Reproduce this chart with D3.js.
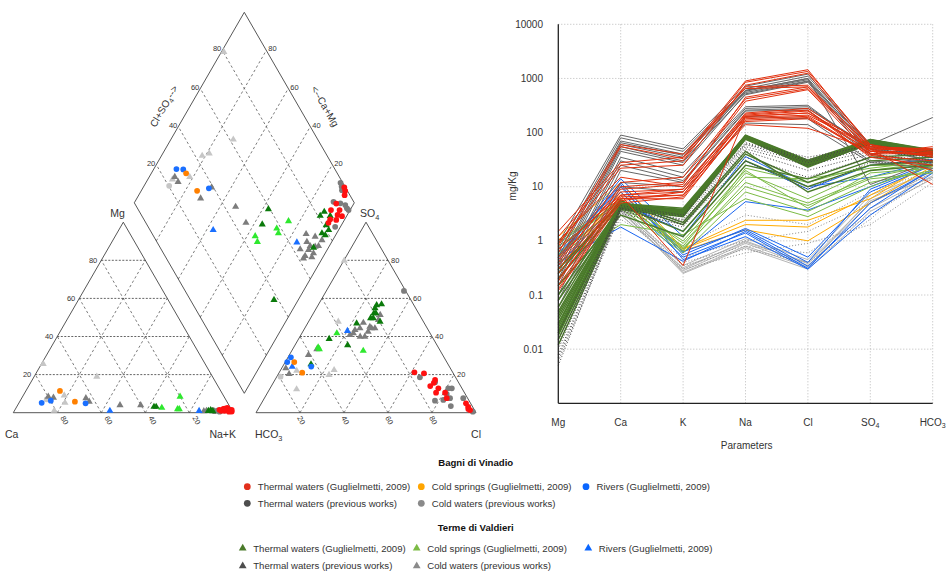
<!DOCTYPE html>
<html>
<head>
<meta charset="utf-8">
<script src="https://cdn.jsdelivr.net/npm/d3@7"></script>
<style>
body { margin: 0; background: #fff; }
svg { font-family: "Liberation Sans", Arial, sans-serif; }
</style>
</head>
<body>
<div id="chart"></div>
<script>
// groups: v = Bagni di Vinadio (circles), d = Terme di Valdieri (triangles)
const groupKeys = ["vt", "vc", "vr", "vtp", "vcp", "dt", "dc", "dr", "dtp", "dcp"];
const groupLabels = ["Thermal waters (Guglielmetti, 2009)", "Cold springs (Guglielmetti, 2009)", "Rivers (Guglielmetti, 2009)",
  "Thermal waters (previous works)", "Cold waters (previous works)",
  "Thermal waters (Guglielmetti, 2009)", "Cold springs (Guglielmetti, 2009)", "Rivers (Guglielmetti, 2009)",
  "Thermal waters (previous works)", "Cold waters (previous works)"];

// cation triangle: [group, Mg %, Na+K %]
const cationPts = [
  ["vcp", 7.0, 11.7],
  ["dcp", 25.6, 0.8], ["dcp", 18.9, 28.5], ["dcp", 9.1, 18.6], ["dcp", 5.2, 20.9], ["dcp", 1.0, 18.1],
  ["vtp", 0.8, 91], ["vtp", 1.2, 92.5], ["vtp", 0.5, 93.5], ["vtp", 1.4, 90],
  ["dtp", 8.4, 11.7], ["dtp", 7.9, 14.3], ["dtp", 7.6, 29.2], ["dtp", 5.8, 31.6], ["dtp", 4.0, 46.5], ["dtp", 4.0, 55.9],
  ["dtp", 0.8, 86.2], ["dtp", 1.0, 87.3],
  ["dc", 2.6, 66.2], ["dc", 8.4, 71.6], ["dc", 1.9, 73.7], ["dc", 1.9, 74.5],
  ["dt", 3.1, 62.4], ["dt", 3.1, 63.4], ["dt", 0.9, 88.2], ["dt", 1.4, 89], ["dt", 0.8, 90.3],
  ["dr", 1.0, 43.4], ["dr", 0.9, 84],
  ["vr", 5.2, 10.3], ["vr", 6.3, 13.9], ["vr", 4.9, 30.4],
  ["vc", 11.4, 15.5], ["vc", 5.8, 25.1],
  ["vt", 1.5, 93], ["vt", 2.0, 94.5], ["vt", 1.0, 95.5], ["vt", 2.5, 96], ["vt", 1.2, 97], ["vt", 0.8, 98],
  ["vt", 1.8, 96.8], ["vt", 0.5, 97.8], ["vt", 1.0, 94], ["vt", 2.2, 95], ["vt", 0.6, 99], ["vt", 1.5, 98.5]
];

// anion triangle: [group, SO4 %, Cl %]
const anionPts = [
  ["vcp", 18.9, 1.7],
  ["dcp", 79.8, 0.2], ["dcp", 47.8, 13.5], ["dcp", 22.4, 24.3], ["dcp", 19.8, 23.3], ["dcp", 12.3, 12.3], ["dcp", 22, 7.5],
  ["vtp", 63.9, 35.3], ["vtp", 18.6, 65.2], ["vtp", 16, 73.4], ["vtp", 12.8, 81], ["vtp", 12.8, 82.6], ["vtp", 9.8, 81.8],
  ["vtp", 7.6, 84.4], ["vtp", 6.3, 78.2], ["vtp", 6.7, 81.8], ["vtp", 3.5, 86.8], ["vtp", 7.6, 90.4], ["vtp", 0.5, 98.3],
  ["dtp", 51.3, 30.8], ["dtp", 48.7, 31.3], ["dtp", 47.2, 25.2], ["dtp", 44.3, 25.1], ["dtp", 43.4, 23.3], ["dtp", 41.7, 23.4],
  ["dtp", 40.8, 22.3], ["dtp", 39.9, 27.4], ["dtp", 39.9, 29.5], ["dtp", 42.5, 29.7], ["dtp", 44.3, 30.4], ["dtp", 44.3, 31.9],
  ["dtp", 45.1, 29.2], ["dtp", 33.3, 11], ["dtp", 30.3, 8.7], ["dtp", 23.3, 1.9], ["dtp", 20.3, 4.9],
  ["dc", 41.7, 15.9], ["dc", 32.5, 32.5], ["dc", 34.3, 11.1], ["dc", 33.4, 12.1],
  ["dt", 56.5, 26.6], ["dt", 56.9, 28.6], ["dt", 54.8, 26.7], ["dt", 52.2, 27.5], ["dt", 52.2, 28.4], ["dt", 49.6, 27.3],
  ["dt", 49.6, 28.5], ["dt", 47.8, 32.5], ["dt", 46.9, 22.3], ["dt", 38.7, 13.9], ["dt", 35.5, 23.9], ["dt", 25.4, 12.3],
  ["dr", 24.1, 4.4], ["dr", 42.9, 20.1],
  ["vr", 29.1, 1.3], ["vr", 26.6, 0.9], ["vr", 24.2, 13],
  ["vc", 26.6, 4.1], ["vc", 21, 10.5],
  ["vt", 21.2, 61.4], ["vt", 20.7, 66], ["vt", 17.2, 72.8], ["vt", 15.7, 73], ["vt", 14, 72.2], ["vt", 12.8, 76.5],
  ["vt", 10.5, 76.6], ["vt", 10.5, 80.7], ["vt", 7.6, 82.9], ["vt", 4.9, 93], ["vt", 3.1, 94.9], ["vt", 1.4, 96.6], ["vt", 2, 95.5]
];

// diamond: [group, Ca+Mg %, Cl+SO4 %]
const diamondPts = [
  ["vcp", 88.6, 20.3],
  ["dcp", 98.9, 80.3], ["dcp", 71.6, 61.6], ["dcp", 81.5, 43.2], ["dcp", 78.9, 47], ["dcp", 81.6, 32], ["dcp", 88.8, 23.5],
  ["vtp", 11.5, 99], ["vtp", 10, 98.5], ["vtp", 8.9, 97.7], ["vtp", 9.7, 90.8], ["vtp", 6.2, 93.5], ["vtp", 3.5, 95.3],
  ["vtp", 1.9, 95.2], ["vtp", 0.7, 95.5], ["vtp", 2.4, 85],
  ["dtp", 88.4, 25.2], ["dtp", 85.6, 25.4], ["dtp", 68.9, 39.2], ["dtp", 71, 31.3], ["dtp", 52.9, 45], ["dtp", 44, 45.5],
  ["dtp", 13.7, 69.9], ["dtp", 8.9, 73.3], ["dtp", 4.9, 75.5], ["dtp", 11.3, 68.2], ["dtp", 8.7, 68.6], ["dtp", 6.3, 70.7],
  ["dtp", 4.9, 72.4], ["dtp", 8.4, 66.8], ["dtp", 8.4, 63.7], ["dtp", 12.4, 63.2], ["dtp", 5.3, 68.2], ["dtp", 5, 66.4], ["dtp", 8.5, 62.3],
  ["dc", 36.3, 46.2], ["dc", 25.1, 65.3], ["dc", 28.5, 58], ["dc", 26.5, 57.5], ["dc", 33.8, 45.7],
  ["dt", 36.2, 52.5], ["dt", 37.4, 59.3], ["dt", 11, 38], ["dt", 11.3, 84], ["dt", 12.1, 81.1], ["dt", 7.5, 85.6],
  ["dt", 6.9, 81.4], ["dt", 4.5, 81.2], ["dt", 6.7, 77.3], ["dt", 4.7, 78.3], ["dt", 6.8, 69.7],
  ["dr", 57, 28.7], ["dr", 15.7, 63.5],
  ["vr", 89.7, 28], ["vr", 86.5, 31], ["vr", 69.9, 37.7],
  ["vc", 84.2, 31.3], ["vc", 74.6, 31.7],
  ["vt", 8.6, 99.5], ["vt", 7.3, 99], ["vt", 6.4, 97.6], ["vt", 8, 91.6], ["vt", 8.7, 87.5], ["vt", 4.8, 91.4],
  ["vt", 4.4, 89.2], ["vt", 2.1, 90.9], ["vt", 3.7, 87.3], ["vt", 6.6, 84.7], ["vt", 6.5, 83]
];

const piperTicks = [20, 40, 60, 80];

// Schoeller diagram, mg/Kg
const params = ["Mg", "Ca", "K", "Na", "Cl", "SO4", "HCO3"];
const yTicks = [0.01, 0.1, 1, 10, 100, 1000, 10000];

const schVT = [
  [1.5, 28, 35, 900, 1450, 55, 45], [1.2, 25, 30, 850, 1350, 60, 40], [0.9, 22, 25, 750, 1250, 50, 50],
  [0.8, 60, 40, 650, 700, 45, 38], [0.6, 55, 33, 700, 750, 52, 42], [0.5, 12, 15, 420, 650, 48, 36],
  [0.4, 10, 12, 380, 620, 40, 55], [0.35, 8, 9, 230, 280, 50, 45], [0.3, 7, 8, 210, 250, 45, 40],
  [0.25, 6.5, 7, 200, 230, 60, 35], [0.2, 6, 7, 190, 210, 55, 50], [0.18, 7, 9, 180, 200, 40, 42],
  [0.15, 6, 6, 170, 190, 38, 30], [0.13, 5.5, 8, 140, 120, 50, 11], [1.0, 15, 10, 220, 260, 35, 25],
  [0.7, 7, 0.35, 200, 230, 45, 40], [0.12, 5, 6.5, 160, 180, 42, 20], [0.45, 9, 11, 450, 700, 55, 48]
];
const schVTP = [
  [0.9, 90, 50, 720, 1200, 60, 35], [0.7, 80, 45, 650, 1100, 55, 40], [0.6, 70, 40, 600, 1000, 50, 30],
  [0.5, 65, 38, 580, 950, 45, 45], [0.4, 60, 35, 550, 900, 40, 50], [0.35, 55, 30, 500, 850, 35, 28],
  [0.3, 50, 28, 600, 1000, 11, 30], [0.25, 45, 25, 520, 880, 60, 190], [0.2, 35, 18, 300, 320, 45, 40],
  [0.18, 30, 15, 280, 300, 50, 35], [0.15, 25, 13, 260, 280, 55, 30], [0.1, 20, 12, 250, 260, 40, 28],
  [0.08, 12, 10, 200, 180, 30, 25], [0.06, 10, 8, 150, 140, 28, 22]
];
const schDT = [
  [0.02, 4.5, 3.5, 85, 28, 70, 45], [0.025, 4.2, 3.2, 80, 26, 68, 42], [0.03, 4.8, 3.8, 88, 30, 72, 46],
  [0.015, 4, 3, 78, 25, 65, 40], [0.04, 4.4, 3.3, 82, 27, 66, 44], [0.05, 4.6, 3.6, 86, 29, 74, 47],
  [0.012, 3.8, 2.8, 75, 24, 62, 38], [0.035, 4.3, 3.4, 84, 26, 70, 43], [0.02, 4.1, 3.1, 79, 23, 64, 41],
  [0.028, 4.7, 3.7, 90, 31, 75, 48], [0.018, 4.2, 3.0, 81, 25, 67, 42], [0.045, 4.5, 3.5, 83, 28, 69, 45],
  [0.06, 4.9, 4, 87, 27, 71, 44], [0.08, 4, 2.9, 77, 24, 63, 39], [0.1, 4.4, 3.3, 80, 26, 68, 43],
  [0.022, 4.6, 3.6, 85, 29, 73, 46],
  [0.3, 5, 2, 40, 12, 30, 35], [0.2, 4.5, 1.5, 30, 10, 25, 30], [0.15, 3, 1.2, 25, 14, 35, 40], [0.25, 5.5, 2.2, 45, 8, 20, 25]
];
const schDTP = [
  [0.005, 4, 2.5, 60, 30, 55, 40], [0.008, 3.8, 2.2, 55, 28, 50, 38], [0.01, 4.2, 2.8, 62, 32, 60, 42],
  [0.007, 3.5, 2, 50, 25, 45, 35], [0.012, 4.5, 3, 65, 35, 58, 45], [0.006, 3.2, 1.8, 45, 20, 40, 30],
  [0.02, 4, 2.4, 35, 15, 35, 32], [0.015, 3.6, 2, 30, 9, 28, 28]
];
const schDC = [
  [0.8, 5, 0.8, 18, 6, 20, 28], [0.6, 4.5, 0.7, 12, 5, 15, 25], [0.9, 5.5, 1, 20, 4, 18, 22],
  [0.5, 4, 0.6, 8, 3.5, 12, 20], [0.7, 6, 0.9, 15, 14, 22, 30], [1, 5.2, 0.75, 10, 4.5, 14, 18],
  [0.4, 2, 1.3, 6, 2.8, 10, 25], [0.55, 4.8, 0.65, 22, 12, 25, 24]
];
const schDCP = [
  [0.05, 3, 0.3, 0.6, 0.9, 2, 12], [0.1, 4, 0.4, 0.8, 0.6, 3, 15], [0.03, 2.5, 0.5, 1, 1.5, 5, 18],
  [0.2, 5, 0.8, 3, 2, 8, 20], [0.08, 3.5, 0.35, 0.7, 0.4, 2.5, 25]
];
const schVC = [[1.2, 12, 0.72, 2.4, 2.4, 6, 29], [1.05, 6, 0.65, 1.6, 1.0, 5, 24], [0.3, 8, 0.7, 2.0, 1.8, 7, 27]];
const schVR = [[0.5, 14, 1.2, 36, 10, 15, 30], [0.45, 12, 0.6, 5.3, 3.7, 10, 28], [0.55, 10, 0.55, 1.7, 0.5, 8, 25], [0.4, 1.8, 0.42, 1.5, 0.34, 4, 22]];
const schDR = [[0.35, 6, 0.5, 1.4, 0.31, 5, 20], [0.6, 8, 0.63, 1.6, 0.4, 9, 26], [0.3, 5, 1.5, 30, 9, 25, 32], [0.5, 11, 0.45, 1.2, 0.3, 3, 18]];
const schVCP = [
  [0.3, 4, 0.3, 1, 0.38, 5, 18], [0.2, 3.5, 0.28, 0.9, 0.35, 4, 16], [0.15, 5, 0.26, 0.8, 0.33, 6, 20],
  [0.1, 3, 0.32, 0.95, 0.4, 5.5, 15], [0.25, 4.5, 0.35, 1.1, 0.45, 7, 19], [0.08, 3.8, 0.25, 0.75, 0.3, 3.5, 14]
];

// styles
const piperColor = {vt: "#ff1010", vc: "#ff8000", vr: "#1a6fff", vtp: "#7c7c7c", vcp: "#c6c6c6",
  dt: "#0b7a0b", dc: "#2ee82e", dr: "#1a6fff", dtp: "#7c7c7c", dcp: "#c6c6c6"};
const legendColor = {vt: "#e2301c", vc: "#ffa500", vr: "#0a66ff", vtp: "#4d4d4d", vcp: "#8a8a8a",
  dt: "#4a7a2a", dc: "#7cbb45", dr: "#0a66ff", dtp: "#4d4d4d", dcp: "#8a8a8a"};

const svg = d3.select("#chart").append("svg")
  .attr("width", 946)
  .attr("height", 574);

function sub(sel, base, s, after) {
  sel.text(base);
  sel.append("tspan").attr("font-size", "70%").attr("dy", 2.5).text(s);
  if (after) sel.append("tspan").attr("dy", -2.5).text(after);
}

// ---------- Piper ----------
const cX = d3.scaleLinear().domain([0, 100]).range([13.3, 233.3]);
const aX = d3.scaleLinear().domain([0, 100]).range([256, 476]);
const tY = d3.scaleLinear().domain([0, 100]).range([412.7, 222.2]);
const dX = d3.scaleLinear().domain([-100, 100]).range([134.3, 354.3]);
const dY = d3.scaleLinear().domain([0, 200]).range([393.3, 12.3]);

const cat = (mg, nak) => [cX(nak + mg / 2), tY(mg)];
const ani = (so4, cl) => [aX(cl + so4 / 2), tY(so4)];
const dia = (c, s) => [dX(s - c), dY(s + c)];

const piper = svg.append("g");
const grid = [];
piperTicks.forEach(v => {
  grid.push({p: [cat(v, 0), cat(v, 100 - v)], h: true});
  grid.push({p: [cat(0, v), cat(100 - v, v)]});
  grid.push({p: [cat(0, 100 - v), cat(100 - v, 0)]});
  grid.push({p: [ani(v, 0), ani(v, 100 - v)], h: true});
  grid.push({p: [ani(0, v), ani(100 - v, v)]});
  grid.push({p: [ani(0, 100 - v), ani(100 - v, 0)]});
  grid.push({p: [dia(v, 0), dia(v, 100)]});
  grid.push({p: [dia(0, v), dia(100, v)]});
});

piper.selectAll("line.grid")
  .data(grid)
  .enter()
  .append("line")
    .attr("x1", d => d.p[0][0]).attr("y1", d => d.p[0][1])
    .attr("x2", d => d.p[1][0]).attr("y2", d => d.p[1][1])
    .attr("stroke", d => d.h ? "#222" : "#444")
    .attr("stroke-width", 0.7)
    .attr("stroke-dasharray", d => d.h ? "2,1.5" : "2.5,2.5");

const outlines = [
  [cat(0, 0), cat(0, 100), cat(100, 0)],
  [ani(0, 0), ani(0, 100), ani(100, 0)],
  [dia(0, 0), dia(100, 0), dia(100, 100), dia(0, 100)]
];
piper.selectAll("path.outline")
  .data(outlines)
  .enter()
  .append("path")
    .attr("d", d => "M" + d.join("L") + "Z")
    .attr("fill", "none")
    .attr("stroke", "#444")
    .attr("stroke-width", 0.9);

const tickFont = 7.5;
piperTicks.forEach(v => {
  let p = cat(v, 0);
  piper.append("text").attr("x", p[0] - 4).attr("y", p[1] + 2.5)
    .attr("text-anchor", "end").attr("font-size", tickFont).attr("fill", "#333").text(v);
  p = cat(0, 100 - v);
  piper.append("text").attr("transform", `translate(${p[0] + 3},${p[1] + 5}) rotate(62)`)
    .attr("font-size", tickFont).attr("fill", "#333").text(v);
  p = ani(0, v);
  piper.append("text").attr("transform", `translate(${p[0] - 3},${p[1] + 5}) rotate(62)`)
    .attr("font-size", tickFont).attr("fill", "#333").text(v);
  p = ani(v, 100 - v);
  piper.append("text").attr("x", p[0] + 3).attr("y", p[1] + 2.5)
    .attr("font-size", tickFont).attr("fill", "#333").text(v);
  // diamond: Cl+SO4 on upper-left edge, Ca+Mg on upper-right edge
  p = dia(100, v);
  piper.append("text").attr("x", p[0] - 1).attr("y", p[1] + 1)
    .attr("text-anchor", "end").attr("font-size", tickFont).attr("fill", "#333").text(v);
  p = dia(v, 100);
  piper.append("text").attr("x", p[0] + 2).attr("y", p[1] + 1)
    .attr("font-size", tickFont).attr("fill", "#333").text(v);
});

const lab = (x, y, anchor) => piper.append("text").attr("x", x).attr("y", y)
  .attr("text-anchor", anchor).attr("font-size", 10.5).attr("fill", "#333");
lab(117.5, 217, "middle").text("Mg");
sub(lab(360, 217, "start"), "SO", "4");
lab(5, 438, "start").text("Ca");
lab(236, 438, "end").text("Na+K");
sub(lab(255, 438, "start"), "HCO", "3");
lab(481, 438, "end").text("Cl");

sub(piper.append("text").attr("transform", "translate(167,108) rotate(-60)")
  .attr("text-anchor", "middle").attr("font-size", 10).attr("fill", "#333"), "Cl+SO", "4", "-->");
piper.append("text").attr("transform", "translate(322,108) rotate(60)")
  .attr("text-anchor", "middle").attr("font-size", 10).attr("fill", "#333").text("<--Ca+Mg");

const drawOrder = ["vcp", "dcp", "vtp", "dtp", "dc", "dt", "dr", "vr", "vc", "vt"];
const isTri = k => k.charAt(0) === "d";
const symCircle = d3.symbol(d3.symbolCircle).size(26);
const symTri = d3.symbol(d3.symbolTriangle).size(22);

function drawPts(rows, pos) {
  const sorted = rows.slice().sort((a, b) => drawOrder.indexOf(a[0]) - drawOrder.indexOf(b[0]));
  piper.append("g").selectAll("path")
    .data(sorted)
    .enter()
    .append("path")
      .attr("d", d => isTri(d[0]) ? symTri() : symCircle())
      .attr("transform", d => { const p = pos(d[1], d[2]); return `translate(${p[0]},${p[1]})`; })
      .attr("fill", d => piperColor[d[0]]);
}
drawPts(cationPts, cat);
drawPts(anionPts, ani);
drawPts(diamondPts, dia);

// ---------- Schoeller ----------
const sch = svg.append("g");
const sx = d3.scalePoint().domain(params).range([558.3, 932.7]);
const sy = d3.scaleLog().domain([0.001, 10000]).range([403.3, 24.3]);

sch.selectAll("line.hgrid")
  .data(yTicks)
  .enter()
  .append("line")
    .attr("x1", sx("Mg")).attr("x2", sx("HCO3"))
    .attr("y1", d => sy(d)).attr("y2", d => sy(d))
    .attr("stroke", "#aaa").attr("stroke-width", 0.8).attr("stroke-dasharray", "1,2");
sch.selectAll("line.vgrid")
  .data(params.slice(1))
  .enter()
  .append("line")
    .attr("x1", d => sx(d)).attr("x2", d => sx(d))
    .attr("y1", sy(10000)).attr("y2", sy(0.001))
    .attr("stroke", "#aaa").attr("stroke-width", 0.8).attr("stroke-dasharray", "1,2");

const series = [];
schVCP.forEach(v => series.push({v: v, c: "#b4b4b4"}));
schDCP.forEach(v => series.push({v: v, c: "#8c8c8c", dash: "1,2"}));
schVC.forEach(v => series.push({v: v, c: "#ffab00"}));
schVR.forEach(v => series.push({v: v, c: "#1a66f0"}));
schDR.forEach(v => series.push({v: v, c: "#1a66f0"}));
schDC.forEach(v => series.push({v: v, c: "#7cbb45"}));
schVTP.forEach(v => series.push({v: v, c: "#666"}));
schDT.forEach(v => series.push({v: v, c: "#4a7a2a", w: 1.4}));
schDTP.forEach(v => series.push({v: v, c: "#444", dash: "1,2"}));
schVT.forEach(v => series.push({v: v, c: "#e2300e"}));

const line = d3.line()
  .x((d, i) => sx(params[i]))
  .y(d => sy(d));

sch.selectAll("path.series")
  .data(series)
  .enter()
  .append("path")
    .attr("d", d => line(d.v))
    .attr("fill", "none")
    .attr("stroke", d => d.c)
    .attr("stroke-width", d => d.w || 1)
    .attr("stroke-dasharray", d => d.dash || null);

sch.append("line")
  .attr("x1", sx("Mg")).attr("x2", sx("Mg")).attr("y1", sy(10000)).attr("y2", sy(0.001))
  .attr("stroke", "#222").attr("stroke-width", 1.3);
sch.append("line")
  .attr("x1", sx("Mg")).attr("x2", sx("HCO3")).attr("y1", sy(0.001)).attr("y2", sy(0.001))
  .attr("stroke", "#222").attr("stroke-width", 1.3);

sch.selectAll("text.ytick")
  .data(yTicks)
  .enter()
  .append("text")
    .attr("x", 543).attr("y", d => sy(d) + 3.5)
    .attr("text-anchor", "end").attr("font-size", 10).attr("fill", "#333")
    .text(d => d);

sch.selectAll("text.xtick")
  .data(params)
  .enter()
  .append("text")
    .attr("x", d => sx(d)).attr("y", 425.5)
    .attr("text-anchor", "middle").attr("font-size", 10).attr("fill", "#333")
    .each(function(d) {
      const t = d3.select(this);
      if (d === "SO4") sub(t, "SO", "4");
      else if (d === "HCO3") sub(t, "HCO", "3");
      else t.text(d);
    });

sch.append("text").attr("x", 746.7).attr("y", 449).attr("text-anchor", "middle")
  .attr("font-size", 10).attr("fill", "#333").text("Parameters");
sch.append("text").attr("transform", "translate(516,186) rotate(-90)").attr("text-anchor", "middle")
  .attr("font-size", 10).attr("fill", "#333").text("mg/Kg");

// ---------- Legend ----------
const leg = svg.append("g").attr("font-size", 9.6).attr("fill", "#333");
leg.append("text").attr("x", 475.7).attr("y", 466).attr("text-anchor", "middle")
  .attr("font-weight", "bold").attr("fill", "#111").text("Bagni di Vinadio");
leg.append("text").attr("x", 475.7).attr("y", 530.5).attr("text-anchor", "middle")
  .attr("font-weight", "bold").attr("fill", "#111").text("Terme di Valdieri");

const circCols = [247.3, 421.3, 586];
const triCols = [242.7, 416.7, 588.3];
const legendSlots = [
  {k: 0, col: 0, y: 486.7}, {k: 1, col: 1, y: 486.7}, {k: 2, col: 2, y: 486.7},
  {k: 3, col: 0, y: 503.3}, {k: 4, col: 1, y: 503.3},
  {k: 5, col: 0, y: 548.3}, {k: 6, col: 1, y: 548.3}, {k: 7, col: 2, y: 548.3},
  {k: 8, col: 0, y: 566}, {k: 9, col: 1, y: 566}
];
const legCircle = d3.symbol(d3.symbolCircle).size(36);
const legTri = d3.symbol(d3.symbolTriangle).size(26);
const items = leg.selectAll("g.item")
  .data(legendSlots)
  .enter()
  .append("g")
    .attr("transform", d => {
      const key = groupKeys[d.k];
      const x = isTri(key) ? triCols[d.col] : circCols[d.col];
      return `translate(${x},${d.y})`;
    });
items.append("path")
  .attr("d", d => isTri(groupKeys[d.k]) ? legTri() : legCircle())
  .attr("fill", d => legendColor[groupKeys[d.k]]);
items.append("text")
  .attr("x", 10.5).attr("y", 3.4)
  .text(d => groupLabels[d.k]);
</script>
</body>
</html>
